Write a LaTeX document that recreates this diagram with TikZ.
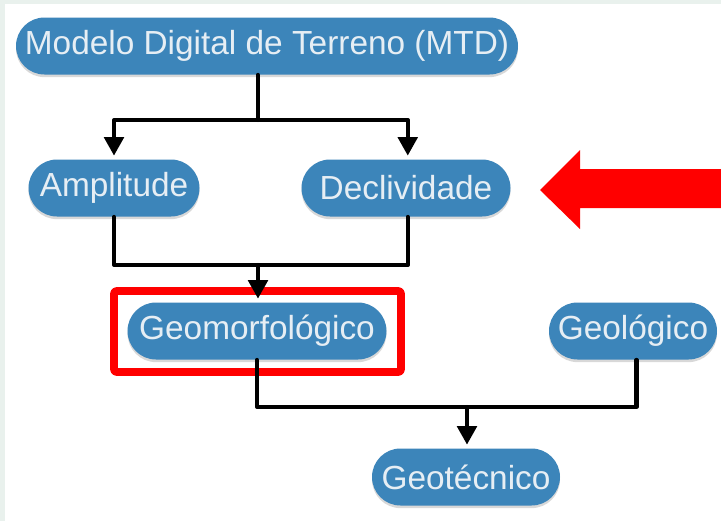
\documentclass[tikz,border=0pt]{standalone}
\usepackage{fontspec}
\setmainfont{Liberation Sans}
\usepackage{tikz}
\usetikzlibrary{arrows.meta,shapes.misc,shadows}
\definecolor{pillblue}{HTML}{3C85BA}
\definecolor{pilltext}{HTML}{E6EEF4}
\definecolor{frame}{HTML}{E9F1ED}
\definecolor{alert}{HTML}{FF0000}
\tikzset{
  every picture/.style={line join=round, line cap=round, >={Triangle[length=10.5pt,width=11pt]}},
  pill/.style={rounded rectangle, fill=pillblue, text=pilltext, minimum height=57*0.02cm, inner sep=0pt, font=\fontsize{19}{21}\selectfont, drop shadow={shadow xshift=0pt, shadow yshift=-1.5pt, opacity=0.3}},
  link/.style={line width=2.3pt, black},
  highlight/.style={draw=alert, line width=4.4pt, rounded corners=1.5pt},
}

\begin{document}
\begin{tikzpicture}[x=0.02cm,y=-0.02cm]
\useasboundingbox (0,0) rectangle (721,521);
\fill[frame] (0,0) rectangle (721,521);
\fill[white] (5,4) rectangle (721,521);
\node[pill,minimum width=502*0.02cm] (mtd) at (267,46){Modelo Digital de Terreno (MTD)};
\node[pill,minimum width=171*0.02cm] (amp) at (114,188){Amplitude};
\node[pill,minimum width=209*0.02cm] (decl) at (406,188){Declividade};
\node[pill,minimum width=259*0.02cm] (geom) at (257,331){Geomorfológico};
\node[pill,minimum width=168*0.02cm] (geol) at (633,331){Geológico};
\node[pill,minimum width=188*0.02cm] (geot) at (466,477){Geotécnico};
\coordinate (j1) at (258,120);
\coordinate (j2) at (258,265);
\coordinate (j3) at (467,407);
\draw[highlight] (114,291) rectangle (401,372);
\draw[link] (j1 |- mtd.south) -- (j1);
\draw[link,->] (j1) -| ([yshift=2pt]amp.north);
\draw[link,->] (j1) -| ([xshift=1pt,yshift=2pt]decl.north);
\draw[link] (amp.south) |- (j2);
\draw[link] ([xshift=1pt]decl.south) |- (j2);
\draw[link,->] (j2) -- ([yshift=2pt]j2 |- geom.north);
\draw[link] (geom.south) |- (j3);
\draw[link] ([xshift=2pt]geol.south) |- (j3);
\draw[link,->] (j3) -- ([yshift=2pt]j3 |- geot.north);
\fill[alert] (540,190) -- (580,150) -- (580,169) -- (721,169) -- (721,208) -- (580,208) -- (580,229) -- cycle;
\end{tikzpicture}
\end{document}
